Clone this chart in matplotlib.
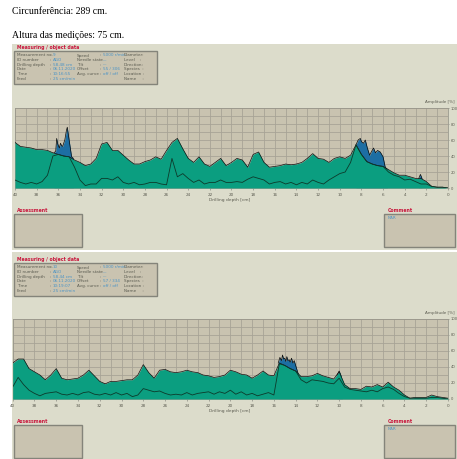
import matplotlib
matplotlib.use('Agg')
import matplotlib.pyplot as plt
import numpy as np
from matplotlib.patches import Rectangle

W, H = 457, 459

# drilling depth grid (cm), read every 0.5 cm from 40 down to 0
depth = np.arange(40, -0.01, -0.5)

# measurement 9
green_9 = [57, 52, 51, 50, 48, 48, 47, 44, 42, 40, 39, 35, 32, 28, 30, 37,
           55, 57, 47, 47, 41, 35, 30, 30, 33, 35, 39, 36, 47, 57, 62, 49,
           37, 32, 39, 30, 27, 32, 37, 28, 32, 37, 35, 26, 42, 45, 32, 26,
           27, 28, 30, 29, 30, 32, 37, 43, 37, 36, 32, 37, 39, 37, 41, 54,
           42, 33, 30, 28, 27, 23, 19, 16, 16, 14, 12, 12, 8, 2, 1, 1, 0]
feed_9 = [10, 7, 5, 7, 5, 8, 16, 40, 42, 40, 39, 26, 10, 3, 5, 5,
          12, 12, 10, 14, 7, 5, 7, 4, 5, 7, 7, 5, 4, 37, 14, 18,
          12, 7, 10, 5, 7, 7, 10, 7, 7, 8, 7, 11, 14, 12, 10, 5,
          7, 8, 5, 7, 4, 7, 5, 10, 7, 5, 10, 14, 18, 20, 32, 54,
          42, 33, 30, 28, 27, 20, 16, 14, 10, 11, 8, 5, 5, 2, 1, 1, 0]
blue_9 = [
    ([36.4, 36.24, 36.15, 36.05, 35.9, 35.8, 35.7, 35.6, 35.4, 35.25, 35.17, 35.0, 34.77, 34.6],
     [44, 46, 62, 55, 50, 56, 53, 52, 60, 72, 76, 60, 39, 37]),
    ([8.5, 8.3, 8.1, 8.0, 7.8, 7.64, 7.45, 7.24, 7.05, 6.88, 6.7, 6.51, 6.26, 6.0, 5.8, 5.6],
     [54, 60, 62, 58, 56, 60, 50, 41, 46, 50, 44, 47, 45, 39, 26, 23]),
    ([2.7, 2.55, 2.4], [12, 17, 12]),
]

# measurement 10
green_10 = [45, 50, 50, 38, 34, 30, 24, 30, 38, 26, 24, 25, 26, 30, 36, 29,
            22, 19, 22, 22, 23, 24, 24, 30, 43, 33, 26, 36, 37, 34, 33, 34,
            36, 34, 33, 30, 29, 27, 28, 30, 36, 34, 31, 30, 26, 30, 35, 30,
            29, 45, 42, 38, 35, 28, 28, 29, 32, 29, 27, 25, 34, 18, 13, 13,
            12, 16, 15, 18, 15, 21, 15, 11, 5, 1, 2, 2, 2, 5, 3, 2, 1]
feed_10 = [15, 27, 18, 11, 7, 4, 7, 8, 9, 6, 5, 7, 5, 8, 9, 6,
           5, 7, 5, 8, 5, 7, 3, 5, 13, 11, 9, 10, 7, 5, 6, 5,
           8, 5, 7, 8, 9, 6, 9, 7, 11, 6, 9, 5, 7, 4, 6, 8,
           5, 44, 42, 38, 35, 24, 20, 24, 23, 22, 20, 19, 26, 15, 12, 11,
           10, 9, 11, 9, 13, 15, 12, 7, 3, 1, 1, 1, 1, 2, 2, 1, 0]
blue_10 = [
    ([15.6, 15.45, 15.3, 15.21, 15.1, 15.0, 14.9, 14.81, 14.7, 14.6, 14.5, 14.38, 14.25, 14.13, 13.98, 13.8, 13.68],
     [45, 52, 48, 55, 50, 51, 47, 53, 48, 49, 46, 51, 45, 48, 41, 33, 28]),
    ([10.2, 10.0, 9.85, 9.7], [30, 35, 30, 20]),
]

info_labels_1 = ["Measurement no.", "ID number", "Drilling depth", "Date", "Time", "Feed"]
info_labels_2 = ["Speed", "Needle state", "Tilt", "Offset", "Avg. curve", ""]
info_labels_3 = ["Diameter:", "Level    :", "Direction:", "Species  :", "Location :", "Name     :"]
values_9_1 = ["9", "AGO", "58.48 cm", "06.11.2020", "10:16:55", "25 cm/min"]
values_9_2 = ["5000 r/min", "---", "---", "55 / 306", "off / off", ""]
values_10_1 = ["10", "AGO", "58.44 cm", "06.11.2020", "10:19:07", "25 cm/min"]
values_10_2 = ["5000 r/min", "---", "---", "57 / 334", "off / off", ""]

PANEL = '#dcdccb'
PLOT_BG = '#c9c3b0'
GRID = '#a8a396'
GREEN = '#0b9e80'
BLUE = '#1d6ea3'
FEED = '#0d3a2b'
RED = '#c8163c'
LABEL = '#5b5b50'
VALUE = '#4a93c6'
BOX_EDGE = '#84847a'
SMALL = 3.0


def draw_panel(bg, top, bottom, info_top, values1, values2, ass_top):
    bg.add_patch(Rectangle((12, top), W - 12, bottom - top, color=PANEL, lw=0))
    bg.text(17, info_top - 3.5, "Measuring / object data", color=RED, fontsize=3.3,
            fontweight='bold', va='center')
    bg.add_patch(Rectangle((14, info_top), 143, 33, fc=PLOT_BG, ec=BOX_EDGE, lw=1.0))
    for i in range(6):
        y = info_top + 4.5 + i * 4.6
        bg.text(17, y, info_labels_1[i], color=LABEL, fontsize=SMALL, va='center')
        bg.text(50, y, ":", color=LABEL, fontsize=SMALL, va='center')
        bg.text(53, y, values1[i], color=VALUE, fontsize=SMALL, va='center')
        if info_labels_2[i]:
            bg.text(77, y, info_labels_2[i], color=LABEL, fontsize=SMALL, va='center')
            bg.text(100, y, ":", color=LABEL, fontsize=SMALL, va='center')
            bg.text(103, y, values2[i], color=VALUE, fontsize=SMALL, va='center')
        bg.text(124, y, info_labels_3[i], color=LABEL, fontsize=SMALL, va='center')
    bg.text(17, ass_top - 3.5, "Assessment", color=RED, fontsize=3.3,
            fontweight='bold', va='center')
    bg.add_patch(Rectangle((14, ass_top), 68, 33, fc=PLOT_BG, ec=BOX_EDGE, lw=1.0))
    bg.text(388, ass_top - 3.5, "Comment", color=RED, fontsize=3.3,
            fontweight='bold', va='center')
    bg.add_patch(Rectangle((384, ass_top), 71, 33, fc=PLOT_BG, ec=BOX_EDGE, lw=1.0))
    bg.text(387.5, ass_top + 4, "NAR", color=VALUE, fontsize=SMALL, va='center')


def draw_chart(fig, bg, left, top, green, feed, blue):
    right, bottom = 448, top + 80
    ax = fig.add_axes([left / W, 1 - bottom / H, (right - left) / W, 80 / H])
    ax.set_facecolor(PLOT_BG)
    ax.set_xlim(40, 0)
    ax.set_ylim(0, 100)
    ax.set_xticks(np.arange(40, -1, -2))
    ax.set_xticks(np.arange(39, 0, -2), minor=True)
    ax.set_yticks(np.arange(0, 101, 20))
    ax.set_yticks(np.arange(10, 100, 20), minor=True)
    ax.yaxis.tick_right()
    ax.grid(True, which='both', color=GRID, lw=0.6)
    ax.set_axisbelow(True)
    ax.tick_params(which='both', length=1.5, width=0.4, color='#777770', pad=2,
                   labelsize=3, labelcolor=LABEL)
    ax.tick_params(axis='y', length=1, pad=0.8, labelsize=2.7)
    ax.tick_params(which='minor', length=0)
    for s in ax.spines.values():
        s.set_color('#9a988c')
        s.set_linewidth(0.6)
    for bd, bt in blue:
        ax.fill_between(bd, 0, bt, color=BLUE, lw=0, zorder=2)
        ax.plot(bd, bt, color='#0a0a0a', lw=0.5, zorder=2)
    ax.fill_between(depth, 0, green, color=GREEN, lw=0, zorder=3)
    ax.plot(depth, green, color='#101010', lw=0.5, zorder=4)
    ax.plot(depth, feed, color=FEED, lw=0.6, zorder=4)
    bg.text(455, top - 6, "Amplitude [%]", color=LABEL, fontsize=3.0, va='center',
            ha='right')
    bg.text(230, bottom + 12, "Drilling depth [cm]", color=LABEL, fontsize=3.2,
            ha='center', va='center')
    return ax


fig = plt.figure(figsize=(W / 100, H / 100), dpi=100)
fig.patch.set_facecolor('white')
bg = fig.add_axes([0, 0, 1, 1])
bg.set_xlim(0, W)
bg.set_ylim(H, 0)
bg.axis('off')

bg.text(12, 12, "Circunferência: 289 cm.", family='Liberation Serif', fontsize=7,
        va='center')
bg.text(12, 36, "Altura das medições: 75 cm.", family='Liberation Serif', fontsize=7,
        va='center')

draw_panel(bg, 44, 250, 51, values_9_1, values_9_2, 214)
draw_panel(bg, 252, H, 263, values_10_1, values_10_2, 425)
draw_chart(fig, bg, 15, 108, green_9, feed_9, blue_9)
draw_chart(fig, bg, 12.7, 319, green_10, feed_10, blue_10)

fig.savefig('out.png', dpi=100)
